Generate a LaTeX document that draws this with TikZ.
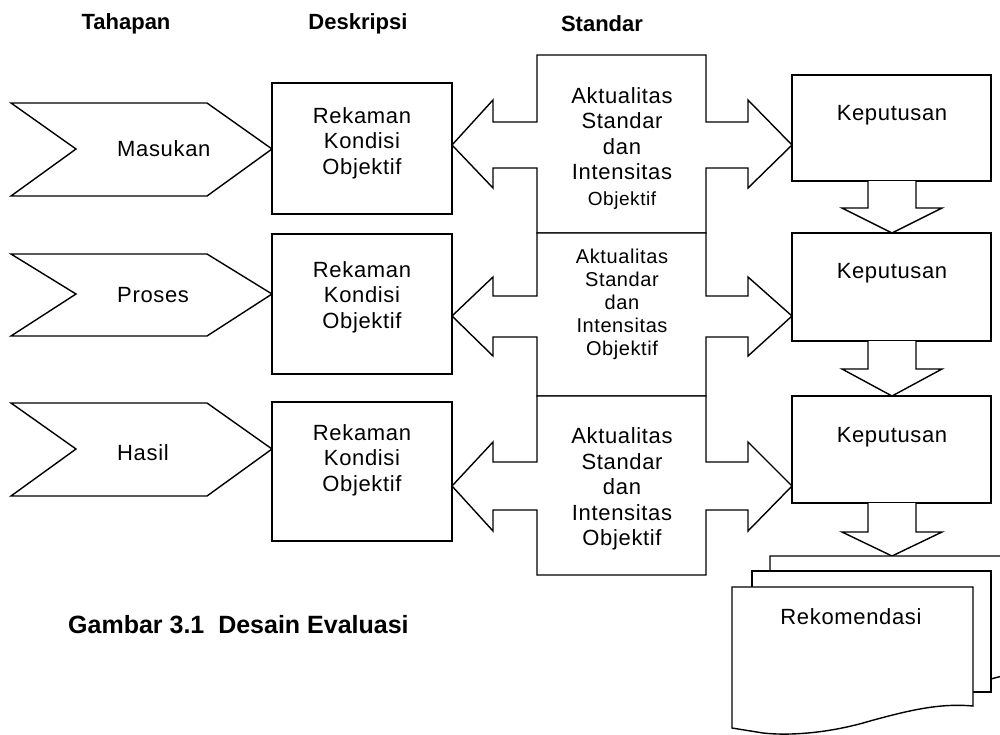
\documentclass[tikz,border=0pt]{standalone}
\usepackage{fontspec}
\setmainfont{Liberation Sans}
\newfontfamily\spaced[LetterSpace=3]{Liberation Sans}
\begin{document}
\begin{tikzpicture}[x=1pt,y=-1pt,
  shp/.style={draw=black, line width=1.4pt, fill=white, line join=miter},
  lbl/.style={font=\spaced\fontsize{22}{25.5}\selectfont, align=center, inner sep=0pt},
  lblsm/.style={font=\spaced\fontsize{20}{23}\selectfont, align=center, inner sep=0pt},
  hdr/.style={font=\bfseries\fontsize{22}{26}\selectfont, inner sep=0pt}]
\clip (0,0) rectangle (1000,734);
\fill[white] (0,0) rectangle (1000,734);

% headers
\node[hdr] (hT) at (126,24) {Tahapan};
\node[hdr] (hD) at (358,24) {Deskripsi};
\node[hdr] (hS) at (602,24) {Standar};

% chevrons
\draw[shp] (11,103) -- (207,103) -- (272,149) -- (207,196) -- (11,196) -- (76,149) -- cycle;
\draw[shp] (11,254) -- (207,254) -- (272,294) -- (207,336) -- (11,336) -- (76,294) -- cycle;
\draw[shp] (11,403) -- (207,403) -- (272,449) -- (207,496) -- (11,496) -- (76,449) -- cycle;
\node[lbl, anchor=west] (t1) at (117,149) {Masukan};
\node[lbl, anchor=west] (t2) at (117,295) {Proses};
\node[lbl, anchor=west] (t3) at (117,453) {Hasil};

% description boxes
\draw[shp] (272,83) rectangle (452,214);
\draw[shp] (272,234) rectangle (452,374);
\draw[shp] (272,402) rectangle (452,541);
\node[lbl] (d1) at (362,143) {Rekaman\\Kondisi\\Objektif};
\node[lbl] (d2) at (362,297) {Rekaman\\Kondisi\\Objektif};
\node[lbl] (d3) at (362,460) {Rekaman\\Kondisi\\Objektif};

% double-arrow callouts
\draw[shp] (537,55) -- (706,55) -- (706,122) -- (748,122) -- (748,100) -- (792,145) -- (748,188) -- (748,168) -- (706,168) -- (706,233) -- (537,233) -- (537,168) -- (493,168) -- (493,188) -- (452,145) -- (493,100) -- (493,122) -- (537,122) -- cycle;
\draw[shp] (537,233) -- (706,233) -- (706,296) -- (748,296) -- (748,277) -- (792,316) -- (748,356) -- (748,337) -- (706,337) -- (706,396) -- (537,396) -- (537,337) -- (493,337) -- (493,356) -- (452,316) -- (493,277) -- (493,296) -- (537,296) -- cycle;
\draw[shp] (537,396) -- (706,396) -- (706,462) -- (748,462) -- (748,442) -- (792,486) -- (748,531) -- (748,510) -- (706,510) -- (706,575) -- (537,575) -- (537,510) -- (493,510) -- (493,531) -- (452,486) -- (493,442) -- (493,462) -- (537,462) -- cycle;
\node[lbl] (s1) at (622,148) {Aktualitas\\Standar\\dan\\Intensitas\\{\fontsize{19}{25.5}\selectfont Objektif}};
\node[lblsm] (s2) at (622,304) {Aktualitas\\Standar\\dan\\Intensitas\\Objektif};
\node[lbl] (s3) at (622,489) {Aktualitas\\Standar\\dan\\Intensitas\\Objektif};

% decision boxes
\draw[shp] (792,75) rectangle (991,181);
\draw[shp] (792,233) rectangle (991,341);
\draw[shp] (792,396) rectangle (991,503);
\node[lbl] (k1) at (892,115) {Keputusan};
\node[lbl] (k2) at (892,273) {Keputusan};
\node[lbl] (k3) at (892,437) {Keputusan};

% down arrows
\draw[shp] (868,181) -- (868,208) -- (842,208) -- (892,233) -- (942,208) -- (916,208) -- (916,181);
\draw[shp] (868,341) -- (868,369) -- (842,369) -- (892,396) -- (942,369) -- (916,369) -- (916,341);
\draw[shp] (868,503) -- (868,532) -- (842,532) -- (892,556) -- (942,532) -- (916,532) -- (916,503);

% multi-document
\draw[shp] (770,700) -- (770,556) -- (1014,556) -- (1014,674) .. controls (1000,676) and (995,678) .. (980,682);
\draw[shp] (752,720) -- (752,571) -- (991,571) -- (991,692) -- (960,692);
\draw[shp] (732,728) -- (732,587) -- (973,587) -- (973,706)
  .. controls (940,703) and (910,710) .. (870,721)
  .. controls (830,733) and (790,736) .. (763,733)
  -- cycle;
\node[lbl] (r) at (851,617) {Rekomendasi};

% caption
\node[font=\bfseries\fontsize{25}{30}\selectfont, inner sep=0pt, anchor=west] (cap) at (68,625) {Gambar 3.1\ \ Desain Evaluasi};
\end{tikzpicture}
\end{document}
